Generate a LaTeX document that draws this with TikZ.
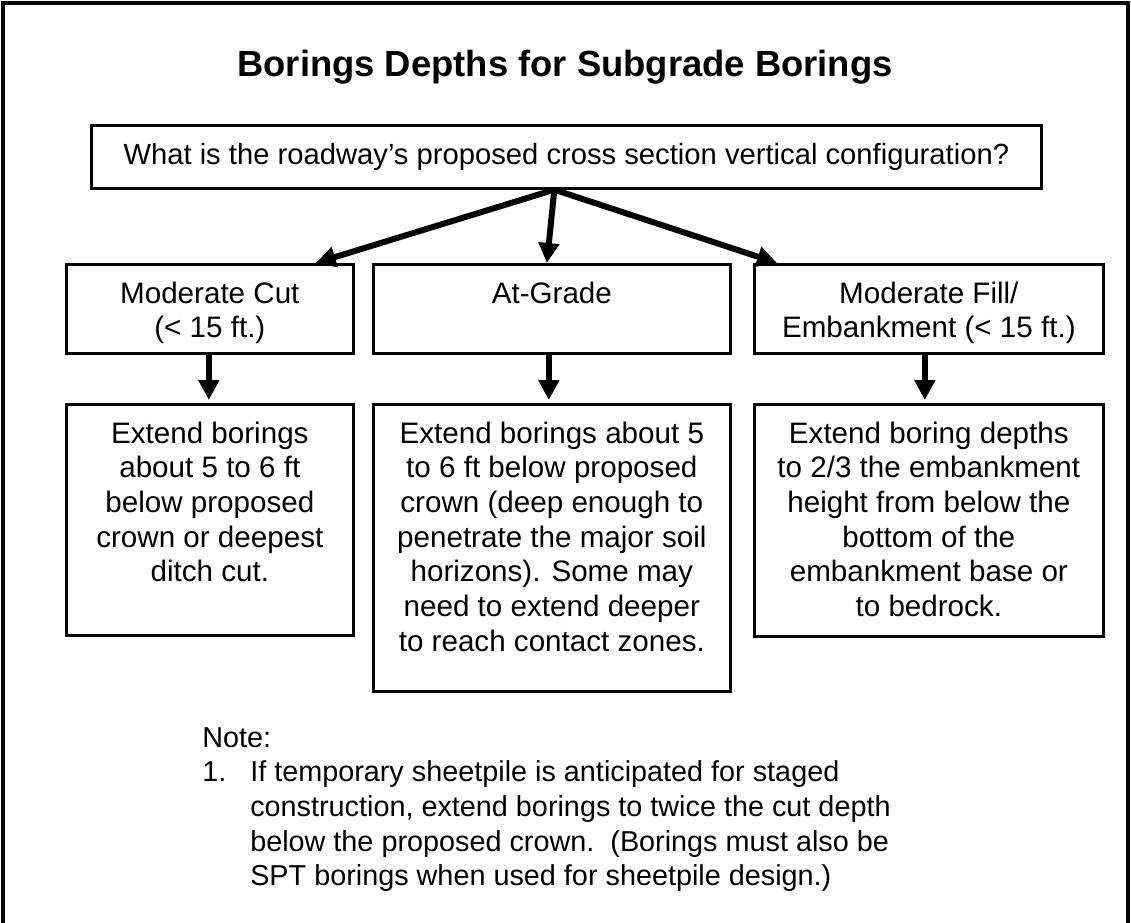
\documentclass[tikz,border=0pt]{standalone}
\usepackage{fontspec}
\setmainfont{Liberation Sans}
\usetikzlibrary{arrows.meta,calc}
\begin{document}
\begin{tikzpicture}[x=0.75pt,y=-0.75pt,
  body/.style={font=\fontsize{22.2}{26}\selectfont},
  box/.style={draw, line width=2pt, inner sep=0pt, anchor=north west},
  txt/.style={body, align=center, inner sep=0pt, anchor=north},
  arr/.style={line width=4.5pt, -{Triangle[length=15pt,width=15pt]}},
  frame/.style={line width=2.4pt}]
\useasboundingbox (0,0) rectangle (1131,922);
% outer frame (bottom edge cut off)
\draw[frame] (3,930) -- (3,3) -- (1128,3) -- (1128,930);
% title
\node[font=\bfseries\fontsize{27.3}{32}\selectfont, anchor=base] (title) at (565,76) {Borings Depths for Subgrade Borings};
% question
\node[box, font=\fontsize{21.9}{26}\selectfont, minimum width=950*0.75pt, minimum height=63*0.75pt] (q) at (90,124) {What is the roadway’s proposed cross section vertical configuration?};
% row 2
\node[box, minimum width=287*0.75pt, minimum height=89*0.75pt] (cut) at (65,263) {};
\node[box, minimum width=357*0.75pt, minimum height=89*0.75pt] (grade) at (372,263) {};
\node[box, minimum width=349*0.75pt, minimum height=89*0.75pt] (fill) at (753,263) {};
\node[txt] (cutT) at ($(cut.north)+(0,18.5)$) {Moderate Cut\\(< 15 ft.)};
\node[txt] (gradeT) at ($(grade.north)+(0,18.5)$) {At-Grade};
\node[txt] (fillT) at ($(fill.north)+(0,18.5)$) {Moderate Fill/\\Embankment (< 15 ft.)};
% row 3
\node[box, minimum width=287*0.75pt, minimum height=231*0.75pt] (e1) at (65,403) {};
\node[box, minimum width=357*0.75pt, minimum height=287*0.75pt] (e2) at (372,403) {};
\node[box, minimum width=349*0.75pt, minimum height=232*0.75pt] (e3) at (753,403) {};
\node[txt] (e1T) at ($(e1.north)+(0,18.5)$) {Extend borings\\about 5 to 6 ft\\below proposed\\crown or deepest\\ditch cut.};
\node[txt] (e2T) at ($(e2.north)+(0,18.5)$) {Extend borings about 5\\to 6 ft below proposed\\crown (deep enough to\\penetrate the major soil\\horizons). Some may\\need to extend deeper\\to reach contact zones.};
\node[txt] (e3T) at ($(e3.north)+(0,18.5)$) {Extend boring depths\\to 2/3 the embankment\\height from below the\\bottom of the\\embankment base or\\to bedrock.};
% connectors
\coordinate (apex) at ($(q.south)+(-12,0)$);
\draw[arr] (apex) -- ($(cut.north east)+(-39,0)$);
\draw[arr] (apex) -- ($(grade.north)+(-5,0)$);
\draw[arr] (apex) -- ($(fill.north west)+(24,0)$);
\draw[arr] ($(cut.south)+(-1,0)$) -- ($(e1.north)+(-1,-3)$);
\draw[arr] ($(grade.south)+(-3,0)$) -- ($(e2.north)+(-3,-3)$);
\draw[arr] ($(fill.south)+(-4,0)$) -- ($(e3.north)+(-4,-3)$);
% note
\node[font=\fontsize{21.6}{26}\selectfont, align=left, inner sep=0pt, anchor=north west] (note) at (202,727)
  {Note:\\
   \makebox[36pt][l]{1.}If temporary sheetpile is anticipated for staged\\
   \hspace*{36pt}construction, extend borings to twice the cut depth\\
   \hspace*{36pt}below the proposed crown.\ \ (Borings must also be\\
   \hspace*{36pt}SPT borings when used for sheetpile design.)};
\end{tikzpicture}
\end{document}
